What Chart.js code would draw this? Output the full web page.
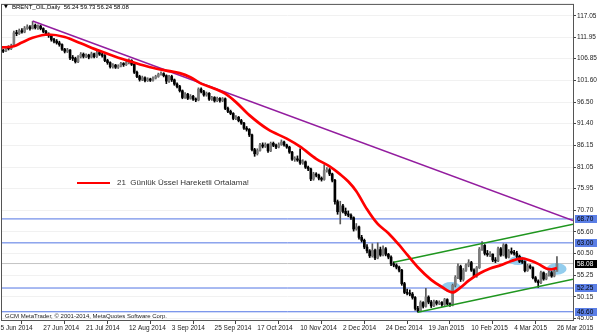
<!DOCTYPE html>
<html>
<head>
<meta charset="utf-8">
<script src="https://cdn.jsdelivr.net/npm/chart.js@4.4.1/dist/chart.umd.min.js"></script>
<style>
html, body { margin: 0; padding: 0; background: #fff; }
canvas { display: block; }
</style>
</head>
<body>
<canvas id="chart" width="600" height="333"></canvas>
<script>
// daily bars, index 0 = 5 Jun 2014, index 208 = 26 Mar 2015
var opens = [
  108.5, 108.8, 108.6, 109.5, 109.2, 109.9, 113.0, 112.8, 113.5, 113.2, 114.1, 114.4, 114.0, 114.8, 114.2, 114.6,
  114.0, 113.3, 112.6, 112.3, 111.4, 111.0, 110.6, 110.2, 109.1, 108.6, 108.9, 107.0, 106.9, 106.1, 107.3, 107.9,
  107.4, 107.7, 107.2, 108.0, 107.3, 108.3, 107.9, 107.6, 106.4, 105.9, 104.9, 105.3, 104.8, 105.1, 105.7, 105.4,
  105.9, 106.4, 105.5, 103.6, 102.6, 101.9, 102.3, 101.6, 102.0, 101.7, 102.2, 102.6, 103.1, 103.3, 102.8, 101.5,
  102.6, 101.8, 100.8, 100.2, 99.2, 97.6, 98.4, 97.4, 97.9, 97.2, 97.0, 99.6, 99.0, 98.2, 98.6, 97.2,
  97.6, 96.8, 97.4, 96.9, 97.3, 95.0, 94.3, 93.8, 92.6, 92.9, 92.1, 91.5, 90.3, 90.0, 88.7, 85.2,
  84.2, 85.0, 86.3, 86.0, 86.4, 84.9, 86.7, 86.2, 85.8, 86.4, 87.0, 86.3, 85.8, 84.6, 82.9, 83.0,
  82.7, 82.0, 82.3, 81.0, 80.6, 78.2, 79.4, 79.1, 78.4, 78.1, 80.2, 80.4, 79.4, 77.9, 72.8, 70.4,
  71.8, 70.5, 69.9, 69.6, 69.0, 66.3, 66.8, 64.3, 63.6, 62.0, 61.1, 59.9, 61.2, 59.4, 61.4, 60.1,
  61.6, 60.3, 59.6, 58.0, 57.7, 57.2, 56.5, 53.3, 51.2, 51.0, 50.8, 50.0, 47.4, 46.8, 48.8, 47.9,
  50.1, 48.9, 48.0, 49.0, 48.6, 48.8, 48.3, 49.5, 48.5, 48.2, 52.9, 54.8, 57.4, 54.3, 56.5, 57.7,
  58.3, 56.5, 55.1, 57.1, 61.5, 62.4, 60.5, 60.2, 60.3, 58.9, 58.7, 61.6, 60.1, 62.5, 59.6, 61.0,
  60.6, 60.5, 59.8, 58.6, 58.5, 56.4, 57.5, 57.1, 54.7, 53.9, 53.5, 55.9, 54.4, 55.3, 55.9, 55.1,
  56.24
];
var highs = [
  109.2, 109.1, 109.8, 109.9, 110.3, 113.4, 113.6, 113.9, 114.0, 114.5, 114.9, 114.7, 115.7, 115.1, 114.9, 114.8,
  114.2, 113.6, 113.0, 112.5, 111.7, 111.4, 111.0, 110.4, 109.3, 109.3, 109.0, 107.6, 107.2, 107.6, 108.3, 108.2,
  108.0, 107.9, 108.4, 108.2, 108.7, 108.6, 108.2, 107.8, 106.7, 106.1, 105.7, 105.5, 105.4, 106.0, 105.9, 106.2,
  106.8, 106.6, 105.7, 103.9, 102.9, 102.7, 102.5, 102.3, 102.2, 102.5, 102.9, 103.4, 103.7, 103.5, 103.0, 102.9,
  102.9, 102.0, 101.1, 100.5, 99.4, 98.8, 98.6, 98.3, 98.1, 97.5, 99.9, 99.9, 99.3, 98.9, 98.8, 97.9,
  97.8, 97.7, 97.6, 97.6, 97.5, 95.3, 94.6, 94.0, 93.3, 93.1, 92.4, 91.7, 90.7, 90.2, 88.9, 85.5,
  85.4, 86.7, 86.8, 86.8, 86.6, 87.0, 87.0, 86.5, 86.8, 87.5, 87.2, 86.5, 86.0, 84.8, 83.5, 83.7,
  85.4, 82.8, 82.5, 81.3, 80.8, 79.8, 79.7, 79.4, 78.7, 81.6, 80.9, 80.7, 79.6, 78.1, 73.2, 72.9,
  72.2, 71.3, 70.6, 69.9, 69.2, 67.6, 67.0, 64.8, 63.9, 62.6, 61.4, 62.8, 61.5, 63.0, 62.0, 62.3,
  61.9, 60.5, 59.9, 58.5, 58.0, 57.5, 56.7, 53.6, 52.0, 51.8, 51.2, 50.2, 47.9, 49.2, 49.0, 52.2,
  50.4, 49.3, 49.4, 49.3, 49.2, 49.0, 49.8, 49.7, 48.7, 53.2, 55.2, 58.0, 57.7, 56.9, 58.0, 59.0,
  58.6, 56.8, 57.4, 61.9, 63.3, 62.6, 61.2, 60.9, 60.4, 59.5, 62.0, 61.9, 62.8, 62.7, 61.4, 61.8,
  61.2, 61.0, 60.1, 59.0, 58.7, 57.9, 57.8, 57.3, 55.0, 54.2, 56.3, 56.1, 55.7, 56.3, 56.2, 56.6,
  59.73
];
var lows = [
  108.2, 108.3, 108.5, 108.9, 109.0, 109.8, 112.3, 112.6, 112.9, 113.0, 113.8, 113.6, 113.9, 113.9, 113.8, 113.7,
  113.0, 112.3, 111.9, 111.0, 110.6, 110.3, 109.8, 108.8, 108.2, 108.3, 106.6, 106.4, 105.8, 105.9, 107.0, 107.0,
  107.1, 106.8, 107.0, 107.0, 107.1, 107.6, 107.2, 106.1, 105.5, 104.6, 104.6, 104.5, 104.5, 104.9, 105.0, 105.2,
  105.6, 105.2, 103.3, 102.3, 101.5, 101.6, 101.3, 101.4, 101.4, 101.5, 102.0, 102.4, 102.9, 102.5, 100.9, 101.2,
  101.4, 100.5, 99.9, 98.9, 97.3, 97.4, 97.1, 97.2, 96.9, 96.6, 96.8, 98.7, 97.9, 97.9, 96.9, 96.9,
  96.5, 96.6, 96.5, 96.6, 94.7, 94.0, 93.5, 92.3, 92.3, 91.8, 91.2, 90.0, 89.6, 88.3, 84.9, 83.6,
  83.9, 84.8, 85.6, 85.7, 84.5, 84.7, 85.9, 85.4, 85.6, 86.2, 86.0, 85.5, 84.3, 82.6, 82.4, 82.4,
  81.7, 81.7, 80.7, 80.2, 77.8, 77.9, 78.7, 78.0, 77.7, 77.9, 79.8, 79.0, 77.5, 72.2, 69.8, 67.5,
  70.1, 69.5, 69.2, 68.6, 65.8, 66.0, 63.9, 63.2, 61.6, 60.6, 59.5, 59.6, 59.0, 59.2, 59.8, 59.9,
  59.9, 59.2, 57.6, 57.3, 56.8, 56.1, 52.9, 50.9, 50.6, 50.4, 49.6, 47.0, 46.5, 46.6, 47.5, 47.7,
  48.5, 47.6, 47.8, 48.2, 48.3, 47.9, 48.1, 48.2, 47.9, 48.0, 52.5, 54.5, 53.8, 53.9, 56.2, 57.3,
  56.2, 54.7, 54.8, 56.9, 61.2, 60.1, 59.8, 59.7, 58.5, 58.3, 58.5, 59.8, 59.9, 59.3, 59.4, 60.3,
  60.1, 59.5, 58.3, 58.1, 56.1, 56.2, 56.8, 54.4, 53.6, 52.4, 53.3, 54.1, 54.2, 55.1, 54.8, 54.9,
  56.24
];
var closes = [
  108.8, 108.6, 109.5, 109.2, 109.9, 113.0, 112.8, 113.5, 113.2, 114.1, 114.4, 114.0, 114.8, 114.2, 114.6, 114.0,
  113.3, 112.6, 112.3, 111.4, 111.0, 110.6, 110.2, 109.1, 108.6, 108.9, 107.0, 106.9, 106.1, 107.3, 107.9, 107.4,
  107.7, 107.2, 108.0, 107.3, 108.3, 107.9, 107.6, 106.4, 105.9, 104.9, 105.3, 104.8, 105.1, 105.7, 105.4, 105.9,
  106.4, 105.5, 103.6, 102.6, 101.9, 102.3, 101.6, 102.0, 101.7, 102.2, 102.6, 103.1, 103.3, 102.8, 101.5, 102.6,
  101.8, 100.8, 100.2, 99.2, 97.6, 98.4, 97.4, 97.9, 97.2, 97.0, 99.6, 99.0, 98.2, 98.6, 97.2, 97.6,
  96.8, 97.4, 96.9, 97.3, 95.0, 94.3, 93.8, 92.6, 92.9, 92.1, 91.5, 90.3, 90.0, 88.7, 85.2, 84.2,
  85.0, 86.3, 86.0, 86.4, 84.9, 86.7, 86.2, 85.8, 86.4, 87.0, 86.3, 85.8, 84.6, 82.9, 83.0, 82.7,
  82.0, 82.3, 81.0, 80.6, 78.2, 79.4, 79.1, 78.4, 78.1, 80.2, 80.4, 79.4, 77.9, 72.8, 70.4, 71.8,
  70.5, 69.9, 69.6, 69.0, 66.3, 66.8, 64.3, 63.6, 62.0, 61.1, 59.9, 61.2, 59.4, 61.4, 60.1, 61.6,
  60.3, 59.6, 58.0, 57.7, 57.2, 56.5, 53.3, 51.2, 51.0, 50.8, 50.0, 47.4, 46.8, 48.8, 47.9, 50.1,
  48.9, 48.0, 49.0, 48.6, 48.8, 48.3, 49.5, 48.5, 48.2, 52.9, 54.8, 57.4, 54.3, 56.5, 57.7, 58.3,
  56.5, 55.1, 57.1, 61.5, 62.4, 60.5, 60.2, 60.3, 58.9, 58.7, 61.6, 60.1, 62.5, 59.6, 61.0, 60.6,
  60.5, 59.8, 58.6, 58.5, 56.4, 57.5, 57.1, 54.7, 53.9, 53.5, 55.9, 54.4, 55.3, 55.9, 55.1, 56.24,
  58.08
];

// 21 day EMA
var emaIdx = [0, 5, 8, 12, 18, 24, 30, 37, 43, 49, 56, 62, 67, 71, 75, 80, 84, 88, 93, 100, 107, 112, 118, 123,
  127, 130, 133, 137, 141, 145, 149, 152, 156, 161, 165, 169, 172, 175, 179, 183, 187, 191, 195, 198, 201, 204, 206, 208];
var emaVals = [109.5, 109.8, 110.7, 111.8, 112.6, 112.0, 110.5, 108.7, 107.3, 106.1, 104.8, 104.0, 103.4, 102.4, 100.9, 99.7,
  98.5, 96.5, 93.4, 90.0, 87.8, 85.9, 83.0, 81.2, 79.3, 77.6, 75.3, 71.0, 67.5, 65.3, 62.5, 60.2, 57.2, 54.2, 52.5, 51.2,
  52.4, 54.0, 55.7, 56.9, 57.7, 58.7, 59.3, 58.8, 58.0, 56.9, 56.7, 57.0];

var dateIdx = [0, 16, 32, 48, 64, 80, 96, 112, 128, 144, 160, 176, 192, 208];
var dateLabels = ['5 Jun 2014', '27 Jun 2014', '21 Jul 2014', '12 Aug 2014', '3 Sep 2014', '25 Sep 2014', '17 Oct 2014',
  '10 Nov 2014', '2 Dec 2014', '24 Dec 2014', '19 Jan 2015', '10 Feb 2015', '4 Mar 2015', '26 Mar 2015'];
var priceTicks = [117.05, 111.95, 106.85, 101.60, 96.50, 91.40, 86.15, 81.05, 75.95, 70.70, 65.60, 60.50, 55.25, 50.15, 45.05];

var levels = [68.70, 63.00, 52.25, 46.60];
var lastPrice = 58.08;

// drawn objects: [bar index, price]
var trendDown = [[12, 115.8], [214, 68.3]];
var channelTop = [[147, 58.4], [214, 67.45]];
var channelBottom = [[156, 46.5], [214, 54.34]];
// highlighted zones: centre bar, centre price, half width in bars, half height in price
var zones = [[168.4, 52.5, 3.6, 1.2], [193.5, 58.8, 3.4, 1.05], [207.9, 56.8, 3.7, 1.4]];

var X_MIN = 0.56, X_MAX = 214;
var FONT = '"Liberation Sans", Arial, sans-serif';

function bodyColor(c) {
  var i = c.dataIndex;
  return closes[i] >= opens[i] ? '#7c7c7c' : '#000000';
}
function wickColor(c) {
  var i = c.dataIndex;
  return closes[i] >= opens[i] ? '#5a5a5a' : '#000000';
}
function pts(p) { return p.map(function (q) { return {x: q[0], y: q[1]}; }); }
function hline(v) { return [{x: X_MIN, y: v}, {x: X_MAX, y: v}]; }
function lineSet(data, color, width, order) {
  return {type: 'line', data: data, borderColor: color, borderWidth: width, pointRadius: 0, order: order};
}

var datasets = levels.map(function (v) { return lineSet(hline(v), '#5275e4', 1, 20); });
datasets.push(lineSet(hline(lastPrice), '#c4c4c4', 1, 20));
var WICKS = datasets.length;
datasets.push({type: 'bar', data: lows.map(function (l, i) { return {x: i, y: [l, highs[i]]}; }),
  backgroundColor: wickColor, barThickness: 1, grouped: false, order: 10});
datasets.push({type: 'bar', data: opens.map(function (o, i) { return {x: i, y: [o, closes[i]]}; }),
  backgroundColor: bodyColor, barThickness: 2, grouped: false, minBarLength: 1, order: 9});
datasets.push(lineSet(pts(trendDown), '#931d9f', 1.5, 5));
datasets.push(lineSet(pts(channelTop), '#1f961f', 1.5, 5));
datasets.push(lineSet(pts(channelBottom), '#1f961f', 1.5, 5));
var emaSet = lineSet(emaIdx.map(function (x, k) { return {x: x, y: emaVals[k]}; }), '#ff0000', 2.7, 1);
emaSet.cubicInterpolationMode = 'monotone';
datasets.push(emaSet);

var decor = {
  id: 'decor',
  beforeDatasetDraw: function (chart, args) {
    if (args.index !== WICKS) return;
    var ctx = chart.ctx, xs = chart.scales.x, ys = chart.scales.y;
    ctx.save();
    ctx.fillStyle = '#93cdee';
    zones.forEach(function (z) {
      var cx = xs.getPixelForValue(z[0]), cy = ys.getPixelForValue(z[1]);
      var rx = Math.abs(xs.getPixelForValue(z[0] + z[2]) - cx);
      var ry = Math.abs(ys.getPixelForValue(z[1] + z[3]) - cy);
      ctx.beginPath();
      ctx.ellipse(cx, cy, rx, ry, 0, 0, Math.PI * 2);
      ctx.fill();
    });
    ctx.restore();
  },
  afterDraw: function (chart) {
    var ctx = chart.ctx, a = chart.chartArea, ys = chart.scales.y;
    ctx.save();
    ctx.strokeStyle = '#555';
    ctx.lineWidth = 1;
    ctx.strokeRect(a.left - 0.5, a.top - 0.5, a.right - a.left + 1, a.bottom - a.top + 1);

    ctx.textBaseline = 'middle';
    ctx.fillStyle = '#000';
    ctx.font = '5px "DejaVu Sans"';
    ctx.fillText('▼', 4, 7);
    ctx.font = '6px ' + FONT;
    ctx.fillText('BRENT_OIL,Daily  56.24 59.73 56.24 58.08', 12, 7);

    ctx.fillStyle = '#222';
    ctx.fillText('GCM MetaTrader, © 2001-2014, MetaQuotes Software Corp.', 5, 316);

    ctx.strokeStyle = '#ff0000';
    ctx.lineWidth = 2;
    ctx.beginPath();
    ctx.moveTo(77, 183);
    ctx.lineTo(110, 183);
    ctx.stroke();
    ctx.fillStyle = '#333';
    ctx.font = '8px ' + FONT;
    ctx.fillText('21  Günlük Üssel Hareketli Ortalama!', 117, 183);

    ctx.font = '6.5px ' + FONT;
    function tag(v, bg, fg) {
      var y = Math.round(ys.getPixelForValue(v));
      ctx.fillStyle = bg;
      ctx.fillRect(575, y - 4, 22, 8);
      ctx.fillStyle = fg;
      ctx.fillText(v.toFixed(2), 577, y + 0.5);
    }
    levels.forEach(function (v) { tag(v, '#5b7fe6', '#000'); });
    tag(lastPrice, '#000', '#fff');
    ctx.restore();
  }
};

new Chart(document.getElementById('chart').getContext('2d'), {
  type: 'bar',
  data: {datasets: datasets},
  options: {
    responsive: false,
    animation: false,
    layout: {padding: {left: 2, top: 2, right: 0, bottom: 0}},
    plugins: {legend: {display: false}, tooltip: {enabled: false}},
    scales: {
      x: {
        type: 'linear', min: X_MIN, max: X_MAX, offset: false,
        afterBuildTicks: function (s) { s.ticks = dateIdx.map(function (v) { return {value: v}; }); },
        afterFit: function (s) { s.height = 13; },
        grid: {drawOnChartArea: false, tickLength: 4, color: '#444'},
        border: {display: false},
        ticks: {
          autoSkip: false, maxRotation: 0, align: 'start', padding: 0, color: '#222',
          font: {family: FONT, size: 6.5},
          callback: function (v) { var k = dateIdx.indexOf(v); return k < 0 ? '' : dateLabels[k]; }
        }
      },
      y: {
        type: 'linear', position: 'right', min: 44.64, max: 119.64,
        afterBuildTicks: function (s) { s.ticks = priceTicks.map(function (v) { return {value: v}; }); },
        afterFit: function (s) { s.width = 27; },
        grid: {color: '#f1f1f1', tickLength: 3, tickColor: '#444'},
        border: {display: false},
        ticks: {
          autoSkip: false, padding: 1, color: '#222', font: {family: FONT, size: 6.5},
          callback: function (v) { return v.toFixed(2); }
        }
      }
    }
  },
  plugins: [decor]
});
</script>
</body>
</html>
